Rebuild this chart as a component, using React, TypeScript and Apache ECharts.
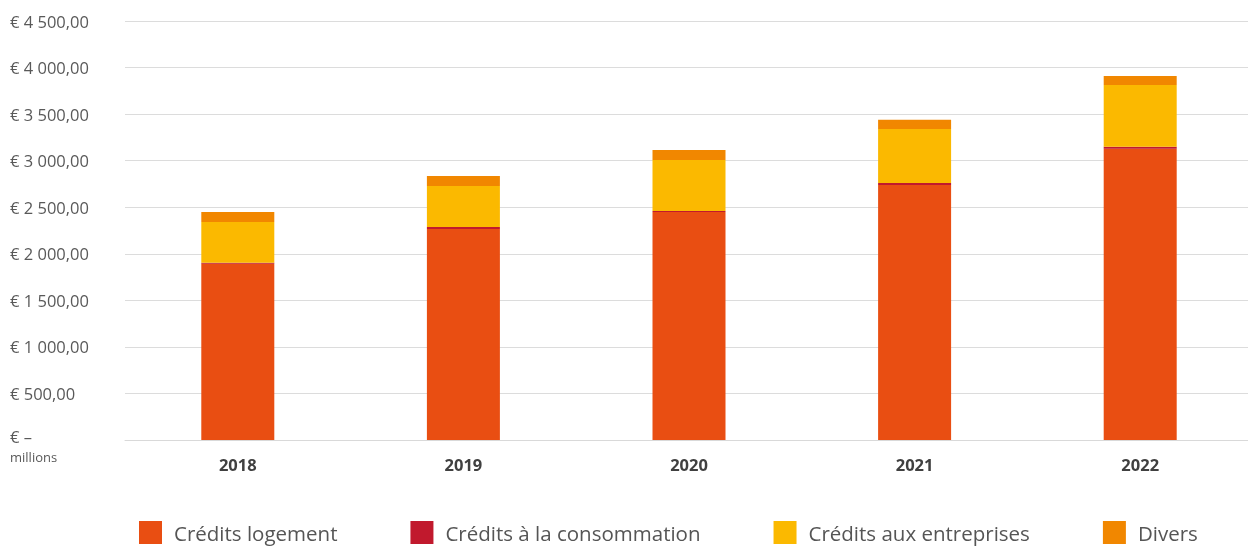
import React, { useEffect, useRef } from "react";
import * as echarts from "echarts";

const years = ["2018", "2019", "2020", "2021", "2022"];
const logement = [1893, 2266, 2449, 2739, 3129];
const consommation = [11, 21, 11, 21, 21];
const entreprises = [437, 440, 548, 580, 663];
const divers = [107, 107, 107, 100, 97];

const seriesNames = ["Crédits logement", "Crédits à la consommation", "Crédits aux entreprises", "Divers"];
const colors = ["#E94E12", "#C1192D", "#FBB900", "#F18700"];

const FONT = "'Open Sans', sans-serif";

function fmt(v: number): string {
  if (v === 0) return "{z|€ –}";
  const s = Math.round(v).toString();
  const withSpaces = s.replace(/\B(?=(\d{3})+(?!\d))/g, " ");
  return "€ " + withSpaces + ",00";
}

export default function App() {
  const ref = useRef<HTMLDivElement>(null);
  useEffect(() => {
    if (!ref.current) return;
    const chart = echarts.init(ref.current, undefined, { renderer: "svg" });
    const data = [logement, consommation, entreprises, divers];
    chart.setOption({
      animation: false,
      textStyle: { fontFamily: FONT },
      grid: { left: 125, right: 7, top: 21, bottom: 106, containLabel: false },
      xAxis: {
        type: "category",
        data: years,
        axisTick: { show: false },
        axisLine: { lineStyle: { color: "#d9d9d9", width: 1 } },
        axisLabel: { color: "#404040", fontWeight: "bold", fontSize: 16.5, margin: 16, fontFamily: FONT },
      },
      yAxis: {
        type: "value",
        min: 0,
        max: 4500,
        interval: 500,
        axisLine: { show: false },
        axisTick: { show: false },
        splitLine: { lineStyle: { color: "#dcdcdc", width: 1 } },
        axisLabel: {
          formatter: (v: number) => fmt(v),
          align: "left",
          margin: 115,
          color: "#595959",
          fontSize: 16.5,
          fontFamily: FONT,
          rich: {
            z: { color: "#595959", fontSize: 16.5, fontFamily: FONT, padding: [0, 0, 7, 0] },
          },
        },
      },
      legend: {
        left: 139,
        top: 521,
        padding: 0,
        itemWidth: 23,
        itemHeight: 23,
        itemGap: 73,
        icon: "rect",
        data: seriesNames,
        textStyle: { color: "#555555", fontSize: 20.5, fontFamily: FONT, padding: [0, 0, 0, 7] },
      },
      graphic: [
        {
          type: "text",
          left: 10,
          top: 450,
          style: { text: "millions", fill: "#595959", fontSize: 13, fontFamily: FONT },
        },
      ],
      series: seriesNames.map((name, i) => ({
        name,
        type: "bar",
        stack: "total",
        barWidth: 73,
        data: data[i],
        itemStyle: { color: colors[i] },
      })),
    });
    return () => chart.dispose();
  }, []);
  return <div ref={ref} style={{ position: "fixed", left: 0, top: 0, width: 1260, height: 546 }} />;
}
